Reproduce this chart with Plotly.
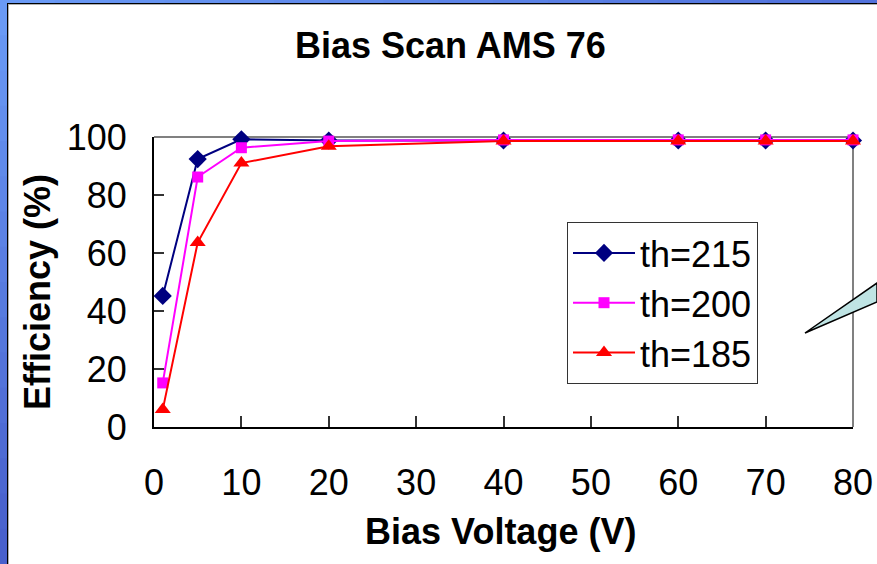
import plotly.graph_objects as go

# ---- data ----
bias_v = [1, 5, 10, 20, 40, 60, 70, 80]
eff_th215 = [45.2, 92.4, 99.2, 98.8, 98.8, 98.8, 98.8, 98.8]
eff_th200 = [15.2, 86.2, 96.3, 98.6, 99.0, 99.0, 99.0, 99.0]
eff_th185 = [6.0, 63.6, 91.0, 96.8, 98.6, 98.6, 98.6, 98.6]
series_names = ["th=215", "th=200", "th=185"]
x_ticks = [0, 10, 20, 30, 40, 50, 60, 70, 80]
y_ticks = [0, 20, 40, 60, 80, 100]

W, H = 877, 564
L, R, T, B = 154, 853, 137, 427  # plot area in pixels


def px(p):
    return (p - L) / (R - L)


def py(p):
    return (B - p) / (B - T)


FONT = "Liberation Sans, Arial, sans-serif"
FS = 36

fig = go.Figure()
fig.add_trace(go.Scatter(x=bias_v, y=eff_th215, name=series_names[0], mode="lines+markers",
                         line=dict(color="#000080", width=2),
                         marker=dict(symbol="diamond", size=14, color="#000080"),
                         cliponaxis=False))
fig.add_trace(go.Scatter(x=bias_v, y=eff_th200, name=series_names[1], mode="lines+markers",
                         line=dict(color="#FF00FF", width=2),
                         marker=dict(symbol="square", size=11, color="#FF00FF"),
                         cliponaxis=False))
fig.add_trace(go.Scatter(x=bias_v, y=eff_th185, name=series_names[2], mode="lines+markers",
                         line=dict(color="#FF0000", width=2),
                         marker=dict(symbol="triangle-up", size=14, color="#FF0000"),
                         cliponaxis=False))

shapes = []
# left blue gradient strip
n = 16
c0 = (0x6A, 0x9A, 0xF6)
c1 = (0x48, 0x60, 0xCC)
for i in range(n):
    t = i / (n - 1)
    col = "rgb(%d,%d,%d)" % tuple(int(a + (b - a) * t) for a, b in zip(c0, c1))
    y0 = H * i / n
    y1 = min(H, H * (i + 1) / n + 1)
    shapes.append(dict(type="rect", xref="paper", yref="paper", x0=px(0), x1=px(7),
                       y0=py(y1), y1=py(y0), fillcolor=col, line=dict(width=0), layer="above"))
# top strip
c2 = (0x52, 0x72, 0xDC)
for i in range(n):
    t = i / (n - 1)
    col = "rgb(%d,%d,%d)" % tuple(int(a + (b - a) * t) for a, b in zip(c0, c2))
    x0 = W * i / n
    x1 = min(W, W * (i + 1) / n + 1)
    shapes.append(dict(type="rect", xref="paper", yref="paper", x0=px(x0), x1=px(x1),
                       y0=py(3), y1=py(0), fillcolor=col, line=dict(width=0), layer="above"))
# black frame lines of slide
shapes.append(dict(type="line", xref="paper", yref="paper", x0=px(7.5), x1=px(7.5), y0=py(3), y1=py(H),
                   line=dict(color="black", width=1), layer="above"))
shapes.append(dict(type="line", xref="paper", yref="paper", x0=px(7), x1=px(W), y0=py(3.5), y1=py(3.5),
                   line=dict(color="black", width=1), layer="above"))
shapes.append(dict(type="line", xref="paper", yref="paper", x0=px(8.5), x1=px(8.5), y0=py(4), y1=py(H),
                   line=dict(color="#B0B0B0", width=1), layer="above"))
shapes.append(dict(type="line", xref="paper", yref="paper", x0=px(8), x1=px(W), y0=py(4.5), y1=py(4.5),
                   line=dict(color="#B0B0B0", width=1), layer="above"))
# plot-area gray border (top & right)
shapes.append(dict(type="line", xref="paper", yref="paper", x0=0, x1=1, y0=1, y1=1,
                   line=dict(color="#808080", width=2), layer="below"))
shapes.append(dict(type="line", xref="paper", yref="paper", x0=1, x1=1, y0=0, y1=1,
                   line=dict(color="#808080", width=2), layer="below"))
# callout pointer
shapes.append(dict(type="path", xref="paper", yref="paper",
                   path="M %f %f L %f %f L %f %f Z" % (px(805), py(333), px(877), py(283), px(877), py(302)),
                   fillcolor="#BFE4E4", line=dict(color="black", width=1.5), layer="above"))

annotations = [
    dict(text="<b>Bias Scan AMS 76</b>", xref="paper", yref="paper", x=px(450), y=py(45),
         xanchor="center", yanchor="middle", showarrow=False,
         font=dict(family=FONT, size=FS, color="black")),
    dict(text="<b>Efficiency (%)</b>", xref="paper", yref="paper", x=px(37), y=py(292),
         xanchor="center", yanchor="middle", showarrow=False, textangle=-90,
         font=dict(family=FONT, size=FS, color="black")),
    dict(text="<b>Bias Voltage (V)</b>", xref="paper", yref="paper", x=px(500), y=py(531),
         xanchor="center", yanchor="middle", showarrow=False,
         font=dict(family=FONT, size=FS, color="black")),
]

fig.update_layout(
    width=W, height=H,
    margin=dict(l=L, r=W - R, t=T, b=H - B, pad=0, autoexpand=False),
    paper_bgcolor="white", plot_bgcolor="white",
    font=dict(family=FONT, size=FS, color="black"),
    showlegend=True,
    legend=dict(x=px(567), y=py(222), xanchor="left", yanchor="top",
                bordercolor="#333333", borderwidth=1, bgcolor="white",
                font=dict(family=FONT, size=FS, color="black"),
                tracegroupgap=0, itemwidth=62),
    shapes=shapes,
    annotations=annotations,
)
fig.update_xaxes(range=[0, 80], tickvals=x_ticks, ticktext=[str(v) for v in x_ticks],
                 ticks="inside", ticklen=11, tickwidth=1.5, tickcolor="#333333",
                 showline=True, linecolor="black", linewidth=2, showgrid=False, zeroline=False,
                 automargin=False,
                 ticklabelstandoff=23, tickfont=dict(family=FONT, size=FS))
fig.update_yaxes(range=[0, 100], tickvals=y_ticks, ticktext=[str(v) for v in y_ticks],
                 ticks="inside", ticklen=10, tickwidth=1.5, tickcolor="#333333",
                 showline=True, linecolor="black", linewidth=2, showgrid=False, zeroline=False,
                 automargin=False,
                 ticklabelstandoff=18, tickfont=dict(family=FONT, size=FS))

fig.write_html("out.html", config={"displayModeBar": False})
with open("out.html", "r", encoding="utf-8") as f:
    html = f.read()
html = html.replace("<head>", "<head><style>html,body{margin:0;padding:0;overflow:hidden}</style>", 1)
with open("out.html", "w", encoding="utf-8") as f:
    f.write(html)
